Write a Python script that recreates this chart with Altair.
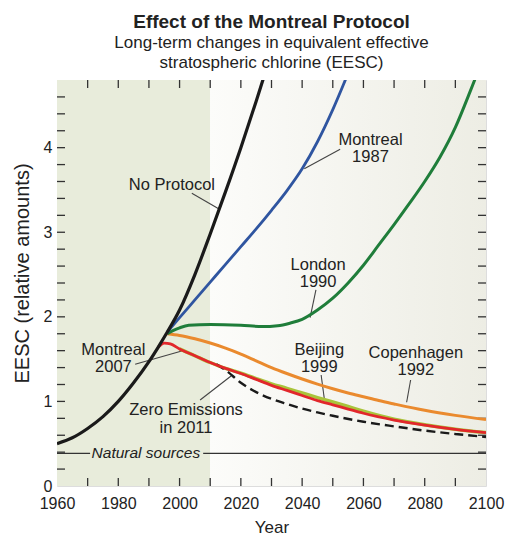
import altair as alt
import pandas as pd

FONT = "Liberation Sans"
INK = "#222222"
W, H = 429, 406

# ---- data -------------------------------------------------------------
years_noprot = [1960, 1965, 1970, 1975, 1980, 1985, 1990, 1993, 1996, 2000, 2005, 2010, 2015, 2020, 2025, 2030]
eesc_noprot = [0.50, 0.57, 0.68, 0.82, 1.00, 1.22, 1.47, 1.64, 1.82, 2.08, 2.50, 2.98, 3.48, 4.00, 4.55, 5.12]

years_m87 = [1996, 2000, 2005, 2010, 2015, 2020, 2025, 2030, 2035, 2040, 2045, 2050, 2055]
eesc_m87 = [1.82, 1.99, 2.20, 2.41, 2.62, 2.83, 3.04, 3.26, 3.49, 3.75, 4.07, 4.45, 4.88]

years_lon = [1996, 1998, 2000, 2003, 2010, 2020, 2027, 2032, 2036, 2040, 2045, 2050, 2055, 2060,
             2065, 2070, 2075, 2080, 2085, 2090, 2095, 2100]
eesc_lon = [1.80, 1.84, 1.87, 1.90, 1.91, 1.90, 1.885, 1.895, 1.925, 1.97, 2.08, 2.22, 2.40, 2.61,
            2.85, 3.09, 3.34, 3.60, 3.89, 4.24, 4.68, 5.15]

years_cop = [1996, 2000, 2005, 2010, 2015, 2020, 2025, 2030, 2035, 2040, 2045, 2050, 2055, 2060,
             2065, 2070, 2080, 2090, 2100]
eesc_cop = [1.80, 1.78, 1.74, 1.69, 1.63, 1.56, 1.48, 1.40, 1.33, 1.265, 1.205, 1.15, 1.10, 1.055,
            1.01, 0.97, 0.895, 0.835, 0.785]

years_bei = [2000, 2005, 2010, 2015, 2020, 2025, 2030, 2035, 2040, 2045, 2050, 2055, 2060,
             2070, 2080, 2090, 2100]
eesc_bei = [1.62, 1.54, 1.46, 1.39, 1.335, 1.27, 1.207, 1.155, 1.10, 1.045, 0.993, 0.94, 0.884,
            0.79, 0.725, 0.672, 0.632]

years_m07 = [1993, 1995, 1997, 2000, 2005, 2010, 2015, 2020, 2025, 2030, 2035, 2040, 2045, 2050,
             2055, 2060, 2070, 2080, 2090, 2100]
eesc_m07 = [1.64, 1.69, 1.68, 1.62, 1.54, 1.46, 1.39, 1.33, 1.26, 1.19, 1.13, 1.07, 1.01, 0.96,
            0.91, 0.86, 0.78, 0.72, 0.67, 0.63]

years_zero = [2012, 2015, 2020, 2025, 2030, 2035, 2040, 2045, 2050, 2060, 2070, 2080, 2090, 2100]
eesc_zero = [1.44, 1.37, 1.22, 1.11, 1.03, 0.97, 0.915, 0.87, 0.83, 0.76, 0.705, 0.655, 0.615, 0.58]

natural_level = 0.386
natural_seg_start = [1960, 2007.7]
natural_seg_end = [1970.8, 2100]

x_tick_years = [1970, 1980, 1990, 2000, 2010, 2020, 2030, 2040, 2050, 2060, 2070, 2080, 2090]
y_tick_vals = [0.2, 0.4, 0.6, 0.8, 1.0, 1.2, 1.4, 1.6, 1.8, 2.0, 2.2, 2.4, 2.6, 2.8, 3.0,
               3.2, 3.4, 3.6, 3.8, 4.0, 4.2, 4.4, 4.6]
x_label_years = [1960, 1980, 2000, 2020, 2040, 2060, 2080, 2100]
y_label_vals = [0, 1, 2, 3, 4]

label_text = ["No Protocol", "Montreal", "1987", "London", "1990", "Montreal", "2007",
              "Zero Emissions", "in 2011", "Beijing", "1999", "Copenhagen", "1992"]
label_year = [1997.5, 2062.3, 2062.3, 2045.2, 2045.2, 1978.4, 1978.4,
              2002.1, 2002.1, 2045.6, 2045.6, 2077.1, 2077.1]
label_eesc = [3.50, 4.03, 3.83, 2.554, 2.357, 1.549, 1.344,
              0.839, 0.623, 1.549, 1.351, 1.51, 1.31]

ptr_year1 = [2004.0, 2052.4, 2044.5, 1985.5, 2006.7, 2046.2, 2075.4]
ptr_eesc1 = [3.46, 3.98, 2.32, 1.44, 1.017, 1.312, 1.253]
ptr_year2 = [2012.6, 2040.7, 2042.6, 2001.0, 2016.8, 2047.2, 2074.1]
ptr_eesc2 = [3.28, 3.75, 1.99, 1.60, 1.30, 1.04, 0.99]

shade_start = [1960]
shade_end = [2010]
fade_start = [2010]
fade_end = [2100]

# ---- scales -----------------------------------------------------------
xs = alt.Scale(domain=[1960, 2100], nice=False, zero=False)
ys = alt.Scale(domain=[0, 4.8], nice=False)

def xq(f, **kw):
    return alt.X(f, type="quantitative", scale=xs, **kw)

def yq(f, **kw):
    return alt.Y(f, type="quantitative", scale=ys, **kw)

# ---- layers -----------------------------------------------------------
shade = alt.Chart(pd.DataFrame({"a": shade_start, "b": shade_end})).mark_rect(
    color="#e8ecdb"
).encode(
    x=xq("a", axis=alt.Axis(
        values=x_label_years, format="d", title="Year", ticks=False, domain=False, grid=False,
        labelFont=FONT, labelFontSize=16, labelColor=INK, labelPadding=9, labelFlush=False,
        titleFont=FONT, titleFontSize=17, titleFontWeight="normal", titleColor=INK, titlePadding=8)),
    x2="b",
    y=alt.value(0), y2=alt.value(H),
)

fade = alt.Chart(pd.DataFrame({"a": fade_start, "b": fade_end})).mark_rect(
    color=alt.Gradient(
        gradient="linear",
        stops=[alt.GradientStop(color="#fcfcfa", offset=0),
               alt.GradientStop(color="#ededE4", offset=1)],
        x1=0, x2=1, y1=0, y2=0,
    )
).encode(
    x=xq("a"), x2="b",
    y=alt.value(0), y2=alt.value(H),
)

yaxis_holder = alt.Chart(pd.DataFrame({"v": [0]})).mark_point(opacity=0).encode(
    y=yq("v", axis=alt.Axis(
        values=y_label_vals, format="d", title="EESC (relative amounts)", ticks=False, domain=False,
        grid=False, labelFont=FONT, labelFontSize=16, labelColor=INK, labelPadding=5,
        titleFont=FONT, titleFontSize=20, titleFontWeight="normal", titleColor=INK, titlePadding=11,
        titleY=193)),
    x=alt.value(0),
)

nat = alt.Chart(pd.DataFrame({"a": natural_seg_start, "b": natural_seg_end,
                              "v": [natural_level] * 2})).mark_rule(
    color="#333333", strokeWidth=1.2
).encode(x=xq("a"), x2="b", y=yq("v"))

nat_text = alt.Chart(pd.DataFrame({"x": [1989.0], "v": [natural_level],
                                   "t": ["Natural sources"]})).mark_text(
    font=FONT, fontSize=15.5, fontStyle="italic", color=INK, align="center", baseline="middle"
).encode(x=xq("x"), y=yq("v"), text="t:N")

xt_df = pd.DataFrame({"yr": x_tick_years})
yt_df = pd.DataFrame({"v": y_tick_vals})
tick_style = dict(color="#333333", strokeWidth=1.3)
ticks = [
    alt.Chart(xt_df).mark_rule(**tick_style).encode(x=xq("yr"), y=alt.value(0), y2=alt.value(8)),
    alt.Chart(xt_df).mark_rule(**tick_style).encode(x=xq("yr"), y=alt.value(H), y2=alt.value(H - 8)),
    alt.Chart(yt_df).mark_rule(**tick_style).encode(y=yq("v"), x=alt.value(0), x2=alt.value(8)),
    alt.Chart(yt_df).mark_rule(**tick_style).encode(y=yq("v"), x=alt.value(W), x2=alt.value(W - 8)),
]

ptrs = alt.Chart(pd.DataFrame({"x1": ptr_year1, "y1": ptr_eesc1,
                               "x2": ptr_year2, "y2": ptr_eesc2})).mark_rule(
    color="#444444", strokeWidth=1.1
).encode(x=xq("x1"), y=yq("y1"), x2="x2", y2="y2")

labels = alt.Chart(pd.DataFrame({"x": label_year, "v": label_eesc, "t": label_text})).mark_text(
    font=FONT, fontSize=16.5, color=INK, align="center", baseline="alphabetic"
).encode(x=xq("x"), y=yq("v"), text="t:N")


def curve(years, vals, color, width=2.8, dash=None):
    kw = dict(color=color, strokeWidth=width, clip=True, interpolate="monotone")
    if dash:
        kw["strokeDash"] = dash
    return alt.Chart(pd.DataFrame({"yr": years, "v": vals})).mark_line(**kw).encode(
        x=xq("yr"), y=yq("v"), order="yr:Q")


lines = [
    curve(years_bei, eesc_bei, "#a9c43a", 3.5),
    curve(years_zero, eesc_zero, "#1a1a1a", 2.4, [9, 5]),
    curve(years_cop, eesc_cop, "#ea8a2e", 3.0),
    curve(years_m07, eesc_m07, "#e2272b", 2.8),
    curve(years_lon, eesc_lon, "#1f7d3a", 3.0),
    curve(years_m87, eesc_m87, "#2f55a0", 2.8),
    curve(years_noprot, eesc_noprot, "#1a1a1a", 3.2),
]

chart = alt.layer(
    shade, fade, yaxis_holder, nat, nat_text, *ticks, ptrs, labels, *lines
).properties(
    width=W, height=H,
    autosize=alt.AutoSizeParams(type="none"),
    padding={"left": 57, "top": 80, "right": 20, "bottom": 50},
    title=alt.Title(
        text="Effect of the Montreal Protocol",
        subtitle=["Long-term changes in equivalent effective", "stratospheric chlorine (EESC)"],
        font=FONT, fontSize=19, fontWeight="bold", color=INK,
        subtitleFont=FONT, subtitleFontSize=17, subtitleColor=INK,
        subtitleLineHeight=20, subtitlePadding=3, anchor="middle", offset=8,
    ),
).configure_view(
    stroke="#222222", strokeWidth=1.6
).configure(background="white")

chart.save("out.html", embed_options={"renderer": "svg", "actions": False})
